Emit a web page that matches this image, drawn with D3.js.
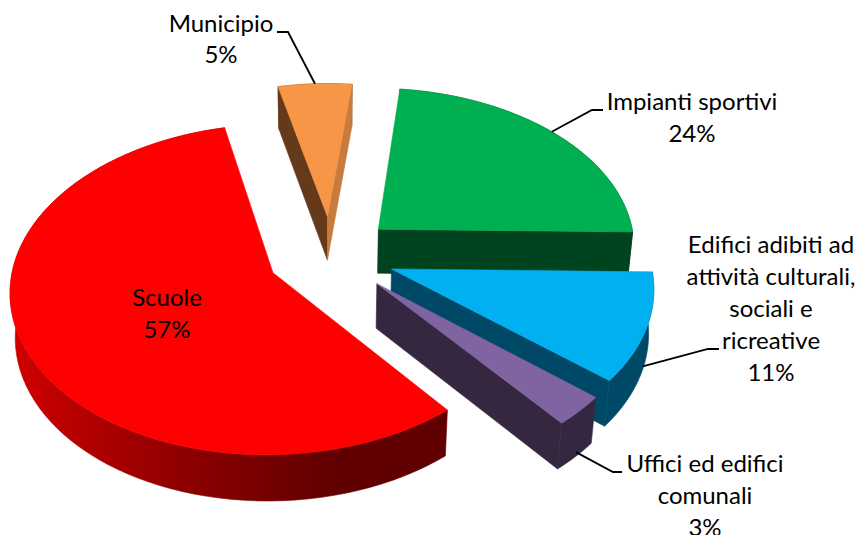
<!DOCTYPE html>
<html>
<head>
<meta charset="utf-8">
<script src="https://cdn.jsdelivr.net/npm/d3@7"></script>
<style>
  html, body { margin: 0; padding: 0; background: #fff; overflow: hidden; }
  text { font-family: Lato, sans-serif; font-size: 24px; fill: #000; text-anchor: middle; }
</style>
</head>
<body>
<div id="chart"></div>
<script>
/* ── Exploded 3D pie — D3.js ──────────────────────── */
const categories = ["Impianti sportivi", "Edifici adibiti ad attività culturali, sociali e ricreative",
  "Uffici ed edifici comunali", "Scuole", "Municipio"];
// the labels show them rounded
const values = [23.5, 10.8, 3, 57.3, 5.4];
const labelLines = [
  ["Impianti sportivi", "24%"],
  ["Edifici adibiti ad", "attività culturali,", "sociali e", "ricreative", "11%"],
  ["Uffici ed edifici", "comunali", "3%"],
  ["Scuole", "57%"],
  ["Municipio", "5%"]
];

// ── Look ──────────────────────────────────────────
const topColors = ["#00b050", "#00b0f0", "#8064a2", "#ff0000", "#f79646"];
const outerColors = ["#00431f", "#004966", "#35273f", "url(#redWall)", "#643a1a"];
const startWallColors = ["#00431f", "#004966", "#35273f", "#600000", "#643a1a"];
const endWallColors = ["#00431f", "#004966", "#35273f", "#600000", "#c87b3c"];
const drawOrder = [4, 0, 3, 1, 2];

// ── Camera ────────────────────────────────────────
const width = 862, height = 535;
const CX = 331, CY = 255;      // pie centre on screen
const radii = [258, 258, 258, 258, 246];
const EXPLODE = 64;
const TILT = 0.62;
const DEPTH = 45;              // wall height
const PERSP_Y = 0.00039, PERSP_Z = 0.016;
const START_ANGLE = 6.4 * Math.PI / 180;

// label centre and first baseline, elbow x of the leader, and the spot on the slice it hits
const labelLayout = [
  { x: 692, y: 110, lineH: 32, elbow: [603, 592], hit: [0.49, 0] },
  { x: 771, y: 253, lineH: 32, elbow: [719, 708], hit: [0.48, 0.9], elbowLine: 3 },
  { x: 705, y: 472, lineH: 32, elbow: [622, 613], hit: [0.5, 0.9] },
  { x: 167, y: 306, lineH: 32 },
  { x: 221, y: 32, lineH: 31, elbow: [277, 288], hit: [0.5, 0] }
];

const svg = d3.select("#chart").append("svg")
  .attr("width", width)
  .attr("height", height)
  .style("display", "block");

const grad = svg.append("defs").append("linearGradient")
  .attr("id", "redWall")
  .attr("gradientUnits", "userSpaceOnUse")
  .attr("x1", 12).attr("x2", 340).attr("y1", 0).attr("y2", 0);
[[0, "#d00000"], [0.3, "#a80000"], [0.6, "#860000"], [1, "#600000"]].forEach(s => {
  grad.append("stop").attr("offset", s[0]).attr("stop-color", s[1]);
});

function project(X, Y, z) {
  const k = 1 / (1 + PERSP_Y * Y + PERSP_Z * z);
  return [CX + X * k, CY - Y * TILT * k + z * DEPTH * k];
}

const line = d3.line();
const arcs = d3.pie().sort(null).startAngle(START_ANGLE).endAngle(START_ANGLE + 2 * Math.PI)(values);

// a slice in world coordinates: shifted out along its middle angle
const slices = arcs.map((a, i) => {
  const mid = (a.startAngle + a.endAngle) / 2;
  const ox = EXPLODE * Math.sin(mid), oy = EXPLODE * Math.cos(mid);
  const rim = (t, z) => {
    const ang = a.startAngle + t * (a.endAngle - a.startAngle);
    return project(ox + radii[i] * Math.sin(ang), oy + radii[i] * Math.cos(ang), z);
  };
  const apex = z => project(ox, oy, z);
  return { rim, apex };
});

const STEPS = d3.range(0, 1.0001, 1 / 80);
const gPie = svg.append("g");

// thin stroke in the fill colour hides the seams between faces
function face(points, color) {
  gPie.append("path")
    .attr("d", line(points) + "Z")
    .attr("fill", color)
    .attr("stroke", color)
    .attr("stroke-width", 0.6);
}

drawOrder.forEach(i => {
  const s = slices[i];
  const topArc = STEPS.map(t => s.rim(t, 0));
  const botArc = STEPS.map(t => s.rim(t, 1));

  face(topArc.concat(botArc.slice().reverse()), outerColors[i]);

  // radial walls, only the ones facing the viewer (d3 area is negative for these)
  const startWall = [s.rim(0, 0), s.apex(0), s.apex(1), s.rim(0, 1)];
  const endWall = [s.apex(0), s.rim(1, 0), s.rim(1, 1), s.apex(1)];
  if (d3.polygonArea(startWall) < 0) face(startWall, startWallColors[i]);
  if (d3.polygonArea(endWall) < 0) face(endWall, endWallColors[i]);

  face([s.apex(0)].concat(topArc), topColors[i]);
});

// ── Labels and leaders ────────────────────────────
labelLines.forEach((lines, i) => {
  const l = labelLayout[i];
  const t = svg.append("text");
  lines.forEach((txt, j) => {
    t.append("tspan").attr("x", l.x).attr("y", l.y + j * l.lineH).text(txt);
  });
  if (!l.elbow) return;
  const yLine = l.y + (l.elbowLine || 0) * l.lineH;
  svg.append("path")
    .attr("d", line([[l.elbow[0], yLine], [l.elbow[1], yLine], slices[i].rim(l.hit[0], l.hit[1])]))
    .attr("fill", "none")
    .attr("stroke", "#000")
    .attr("stroke-width", 1.8);
});
</script>
</body>
</html>
